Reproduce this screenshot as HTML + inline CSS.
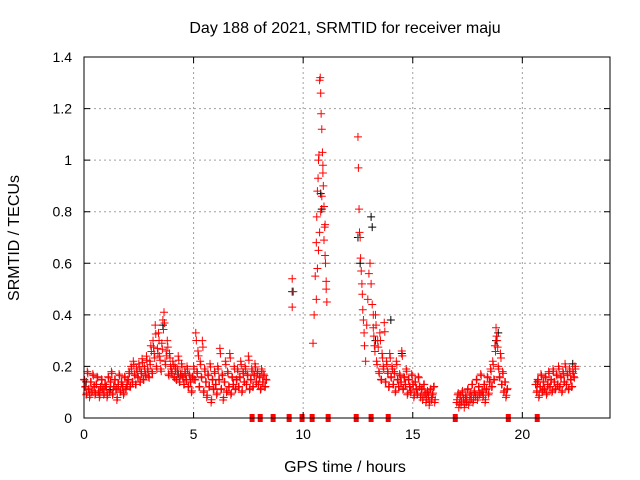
<!DOCTYPE html>
<html><head><meta charset="utf-8"><style>
body{margin:0;background:#fff}
svg{display:block;font-family:"Liberation Sans",sans-serif}
</style></head><body>
<svg id="chart" width="640" height="480" viewBox="0 0 640 480">
<text x="345" y="33" font-size="16" text-anchor="middle">Day 188 of 2021, SRMTID for receiver maju</text>
<text x="345" y="472" font-size="16" text-anchor="middle">GPS time / hours</text>
<text transform="translate(19,238) rotate(-90)" font-size="16" text-anchor="middle">SRMTID / TECUs</text>
<g id="grid"></g>
<g id="marks"></g>
<g id="axes"></g>
</svg>
<script>
const xTicks=[0,5,10,15,20];
const yTicks=[0,0.2,0.4,0.6,0.8,1,1.2,1.4];
const yTickLabels=["0","0.2","0.4","0.6","0.8","1","1.2","1.4"];
const seg1Start=0, seg1Step=0.05;
const seg1Vals=[.15,.12,.09,.18,.11,.08,.14,.10,.17,.12,.09,.13,.16,.10,.08,.12,.15,.11,.09,.13,
.12,.08,.16,.10,.14,.18,.09,.12,.15,.11,.07,.13,.17,.10,.14,.12,.09,.16,.11,.13,
.15,.18,.12,.20,.14,.22,.17,.13,.19,.16,.21,.14,.18,.23,.15,.20,.17,.24,.19,.16,
.22,.28,.18,.30,.25,.36,.20,.27,.33,.24,.19,.29,.38,.41,.22,.26,.30,.17,.25,.20,
.18,.22,.16,.20,.15,.19,.24,.14,.17,.21,.16,.13,.18,.15,.20,.12,.17,.14,.10,.16,
.20,.15,.33,.18,.26,.12,.22,.16,.30,.10,.19,.14,.08,.17,.12,.21,.06,.15,.11,.18,
.13,.09,.20,.15,.27,.11,.17,.07,.14,.22,.10,.18,.12,.25,.09,.16,.13,.20,.11,.15,
.19,.12,.16,.22,.10,.18,.14,.20,.13,.17,.24,.11,.15,.19,.12,.17,.21,.14,.18,.13,
.16,.11,.19,.14,.17,.12,.15];
const stormTimes=[9.5,9.55,9.5,10.45,10.5,10.55,10.6,10.62,10.65,10.68,10.7,10.72,10.75,10.78,10.8,10.82,10.85,10.88,10.9,10.92,10.95,10.98,11.0,11.02,11.05,11.08,10.6,10.65,10.7,10.75,10.8,10.85,10.9,10.95,11.0,11.05,
12.5,12.52,12.55,12.57,12.6,12.62,12.65,12.68,12.7,12.72,12.75,12.78,12.8,12.85,12.9,12.95,13.0,13.05,13.1,13.15,13.2];
const stormVals=[.54,.49,.43,.29,.40,.55,.68,.78,.88,.93,1.0,1.02,1.31,1.32,1.26,1.18,1.12,1.03,.98,.90,.82,.74,.63,.60,.50,.45,.46,.58,.65,.72,.80,.86,.95,.69,.75,.53,
1.09,.97,.81,.72,.70,.62,.57,.52,.48,.42,.38,.33,.28,.22,.36,.46,.56,.60,.52,.44,.40];
const seg2Start=13.2, seg2Step=0.05;
const seg2Vals=[.35,.28,.40,.22,.30,.18,.33,.15,.25,.20,.37,.14,.22,.18,.12,.25,.16,.20,.13,.18,.10,.22,.15,.12,.17,.14,.26,.11,.16,.13,.19,.09,.15,.12,.10,.17,.13,.08,.14,.11,.09,.16,.12,.08,.11,.07,.13,.09,.06,.10,.08,.05,.11,.07,.09,.12,.06];
const seg3Start=17.0, seg3Step=0.05;
const seg3Vals=[.06,.09,.04,.08,.05,.10,.07,.04,.08,.06,.11,.05,.09,.07,.13,.06,.10,.08,.15,.07,.12,.09,.17,.10,.08,.13,.06,.11,.16,.09,.14,.19,.12,.22,.15,.28,.35,.30,.20,.16,.25,.13,.18,.10,.14,.08,.11];
const seg4Start=20.6, seg4Step=0.05;
const seg4Vals=[.13,.10,.15,.08,.12,.17,.10,.14,.11,.16,.09,.13,.18,.12,.15,.10,.19,.14,.11,.17,.13,.20,.12,.16,.10,.18,.14,.21,.13,.17,.11,.19,.15,.12,.18,.16,.20];
const zeroTimes=[7.67,8.04,8.63,9.36,9.95,10.41,11.14,12.42,13.1,13.88,16.94,19.36,20.68];
const blackTimes=[0.1,1.2,3.6,4.3,9.5,10.8,10.85,12.5,12.6,13.1,13.15,13.3,14.0,14.5,18.8,18.9,20.7,22.3];
const blackVals=[.14,.11,.36,.17,.49,.87,.81,.70,.60,.78,.74,.30,.38,.25,.30,.33,.14,.21];

const NS="http://www.w3.org/2000/svg";
const L=84,R=610,T=57,B=418,XMAX=24,YMAX=1.4;
const xs=v=>L+(R-L)*v/XMAX, ys=v=>B-(B-T)*v/YMAX;
const grid=document.getElementById('grid'),marks=document.getElementById('marks'),axes=document.getElementById('axes');
function mk(tag,attrs,parent){const e=document.createElementNS(NS,tag);for(const k in attrs)e.setAttribute(k,attrs[k]);parent.appendChild(e);return e;}
xTicks.forEach(t=>{
 if(t>0){const g=mk('line',{x1:xs(t),x2:xs(t),y1:T,y2:B,stroke:'#a0a0a0','stroke-dasharray':'2,3'},grid);
 
 }
 const tk=mk('path',{d:`M${xs(t)},${B}v-6M${xs(t)},${T}v6`,stroke:'#000'},axes);
 
 
 const tx=mk('text',{x:xs(t),y:B+21,'font-size':14,'text-anchor':'middle'},axes);tx.textContent=t;
 
 
});
yTicks.forEach((t,i)=>{
 if(t>0&&t<YMAX){const g=mk('line',{x1:L,x2:R,y1:ys(t),y2:ys(t),stroke:'#a0a0a0','stroke-dasharray':'2,3'},grid);
 
 }
 const tk=mk('path',{d:`M${L},${ys(t)}h6M${R},${ys(t)}h-6`,stroke:'#000'},axes);
 
 
 const tx=mk('text',{x:L-12,y:ys(t)+5,'font-size':14,'text-anchor':'end'},axes);tx.textContent=yTickLabels[i];
 
 
});
const frame=mk('rect',{x:L,y:T,width:R-L,height:B-T,fill:'none',stroke:'#000'},axes);


function plus(t,v,color,name){
 const p=mk('path',{d:`M${xs(t)-4},${ys(v)}h8M${xs(t)},${ys(v)-4}v8`,stroke:color,'stroke-width':1},marks);
 
 
}
blackTimes.forEach((t,i)=>plus(t,blackVals[i],'#000','black-point'));
[[seg1Start,seg1Step,seg1Vals],[seg2Start,seg2Step,seg2Vals],[seg3Start,seg3Step,seg3Vals],[seg4Start,seg4Step,seg4Vals]].forEach(([s,st,vals])=>{
 vals.forEach((v,i)=>{plus(s+st*i,v,'#ff0000','red-point');plus(s+st*i+st/2,Math.max(0.03,v*0.85+0.02),'#ff0000','red-point');});
});
stormTimes.forEach((t,i)=>plus(t,stormVals[i],'#ff0000','red-point'));
zeroTimes.forEach(t=>{
 const r=mk('rect',{x:xs(t)-2.5,y:B-4,width:5,height:8,fill:'#ff0000'},marks);
 
 
});
</script>
</body></html>
